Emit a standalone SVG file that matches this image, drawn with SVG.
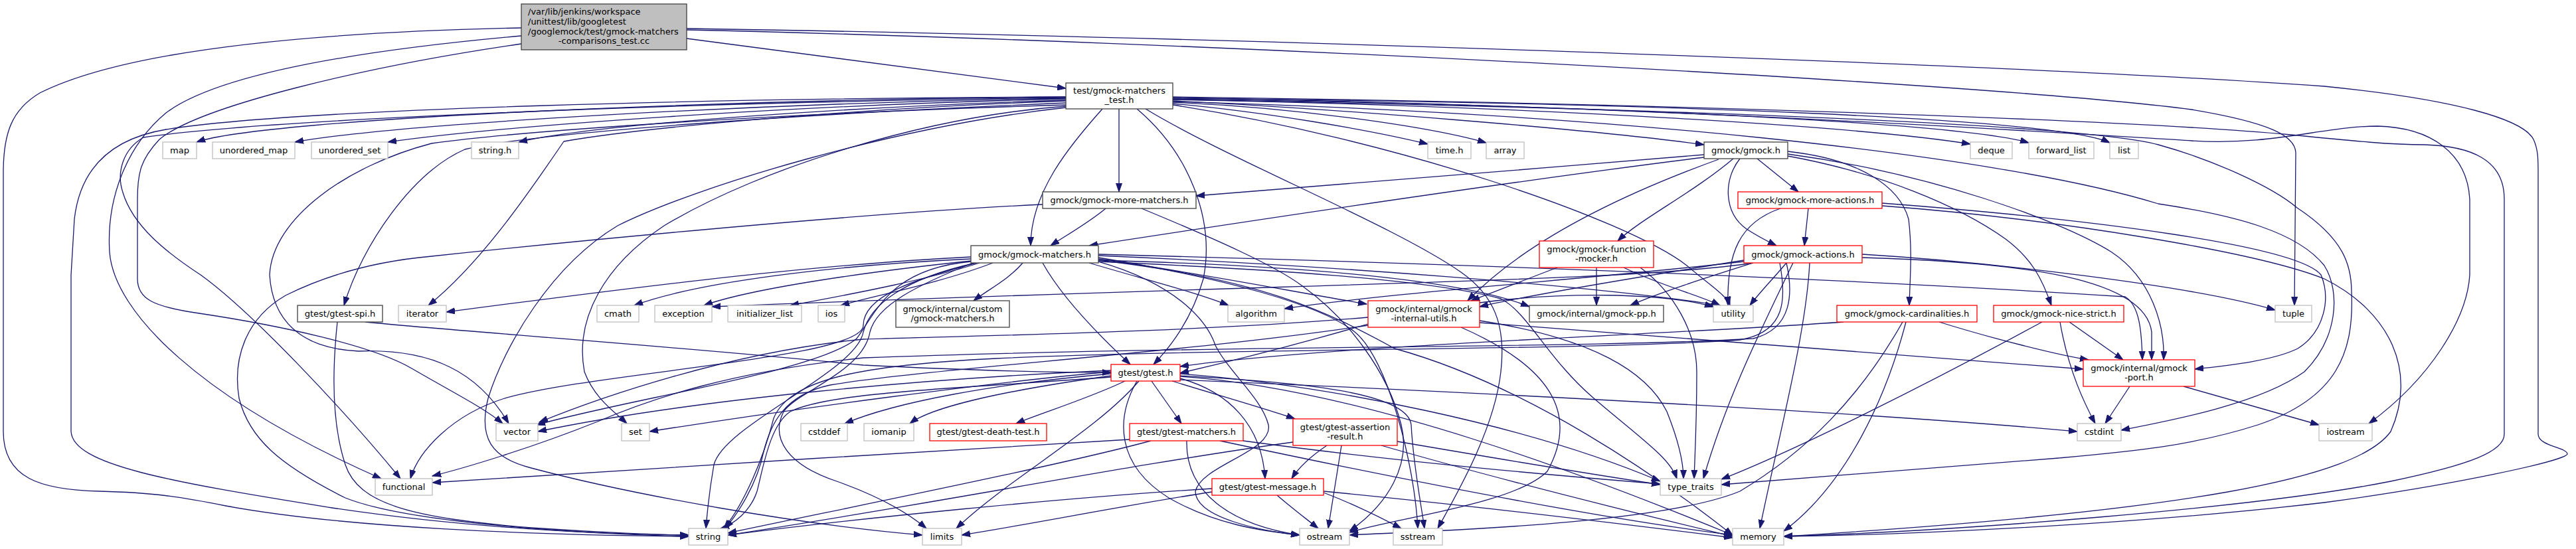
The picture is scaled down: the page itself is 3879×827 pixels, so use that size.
<svg xmlns="http://www.w3.org/2000/svg" width="3879" height="827" viewBox="0 0 3879 827">
<style>
.n rect{fill:#fff;stroke-width:1.3}
.g rect{stroke:#bfbfbf}
.b rect{stroke:#404040}
.r rect{stroke:#ff0000}
.root rect{fill:#bfbfbf;stroke:#404040}
text{font-family:"DejaVu Sans","Liberation Sans",sans-serif;font-size:13px;fill:#000}
.c{text-anchor:middle}
#edges path{fill:none;stroke:#191970;stroke-width:1.3;marker-end:url(#a)}
</style>
<defs>
<marker id="a" markerWidth="14" markerHeight="10" refX="13" refY="5" orient="auto" markerUnits="userSpaceOnUse">
<path d="M0,0.5 L13,5 L0,9.5 z" fill="#191970" stroke="#191970" stroke-width="1"/>
</marker>
</defs>
<rect x="0" y="0" width="3879" height="827" fill="#fff"/>
<g id="edges">
<!-- root -->
<path d="M1034,58 C1250,86 1450,113 1605,133"/>
<path d="M785,42 C500,48 200,70 60,140 C18,165 5,200 5,260 L5,650 C5,720 60,738 150,740 C230,742 270,748 340,762 C520,795 800,806 1037,808"/>
<path d="M785,54 C550,75 330,110 250,170 C190,220 160,300 165,380 C172,470 300,600 574,721"/>
<path d="M785,66 C550,100 300,160 240,210 C212,240 207,260 207,300 L207,420 C207,450 230,462 300,472 C420,490 560,520 620,555 C680,590 730,615 757,638"/>
<path d="M1034,43 C1800,55 3000,95 3500,130 C3700,150 3800,180 3815,210 C3822,225 3822,240 3822,260 L3822,654 C3822,672 3866,674 3866,684 C3862,694 3700,730 3500,757 C3200,792 2850,806 2686,808"/>
<path d="M1034,45 C1800,62 3000,125 3300,165 C3420,185 3456,205 3457,230 L3455,460"/>
<!-- test_h -->
<path d="M1605,146 C1100,150 400,178 296,214"/>
<path d="M1605,148 C1150,155 600,186 444,214"/>
<path d="M1605,149 C1200,158 750,190 584,214"/>
<path d="M1605,151 C1300,160 900,186 781,214"/>
<path d="M1605,146 C1100,148 450,163 250,195 C160,210 120,260 112,330 L107,414 L107,650 C110,700 250,725 500,765 C700,795 900,805 1037,806"/>
<path d="M1605,147 C1000,155 400,180 216,207 C185,225 175,260 185,290 C200,340 250,380 302,414 C380,470 520,620 603,721"/>
<path d="M1605,158 C1200,170 800,195 650,216 C520,250 410,330 406,414 C410,480 450,525 540,529 C650,525 720,560 766,638"/>
<path d="M1605,152 C1250,165 950,195 849,213 C790,300 720,400 645,460"/>
<path d="M1605,155 C1200,172 800,200 700,225 C620,260 545,370 518,460"/>
<path d="M1605,160 C1400,175 1150,250 1000,340 C910,400 865,480 880,560 C895,600 925,620 944,638"/>
<path d="M1605,162 C1350,190 1050,280 930,340 C830,400 760,520 735,600 C720,660 740,690 800,705 C950,745 1200,790 1389,806"/>
<path d="M1660,164 C1610,220 1552,290 1552,370"/>
<path d="M1685,164 L1685,289"/>
<path d="M1712,164 C1790,230 1830,330 1812,420 C1795,480 1765,520 1737,549"/>
<path d="M1766,156 C1900,168 2060,195 2150,217"/>
<path d="M1766,154 C1950,162 2150,190 2238,215"/>
<path d="M1766,152 C2000,163 2400,195 2566,218"/>
<path d="M1766,150 C2300,160 2800,190 2967,217"/>
<path d="M1766,149 C2400,158 2950,185 3055,215"/>
<path d="M1766,148 C2500,155 3100,178 3177,215"/>
<path d="M1766,147 C2500,160 3100,200 3300,212 C3420,220 3500,190 3580,190 C3660,192 3715,230 3719,300 L3719,414 C3715,480 3660,570 3567,638"/>
<path d="M1766,146 C2500,156 3200,180 3450,203 C3550,213 3600,218 3651,218 C3720,220 3771,240 3771,300 L3771,654 C3771,680 3720,700 3600,725 C3400,765 2950,800 2686,808"/>
<path d="M1766,153 C2400,170 3000,230 3250,307 C3370,325 3460,350 3500,400 C3525,440 3520,510 3470,560 C3400,610 3260,635 3194,648"/>
<path d="M1766,150 C2600,165 3150,190 3250,218 C3330,240 3420,280 3459,313 C3530,360 3541,400 3541,440 C3545,530 3520,600 3400,640 C3300,672 3210,680 3100,690 C2900,705 2700,720 2592,730"/>
<path d="M1766,158 C2100,210 2450,330 2540,400 C2575,430 2600,445 2605,460"/>
<path d="M1725,164 C1850,240 2100,340 2200,410 C2250,445 2268,490 2260,560 C2250,650 2190,750 2165,796"/>
<!-- more_matchers -->
<path d="M1665,314 C1640,335 1605,355 1582,370"/>
<path d="M1570,308 C1300,320 800,370 650,386 C550,395 480,420 430,445 C370,480 350,540 360,600 C375,660 420,700 520,750 C620,790 900,805 1037,808"/>
<path d="M1719,314 C1830,360 1920,400 1960,430 C2030,480 2090,560 2110,640 C2125,700 2090,760 2032,800"/>
<!-- gmock.h -->
<path d="M2620,239 C2595,270 2595,320 2630,345 C2650,358 2665,365 2675,370"/>
<path d="M2692,228 C2800,240 2860,280 2874,330 C2880,380 2876,420 2875,460"/>
<path d="M2610,239 C2550,290 2470,330 2436,363"/>
<path d="M2566,233 C2300,255 2000,280 1801,295"/>
<path d="M2566,237 C2300,270 1900,330 1640,370"/>
<path d="M2646,239 L2708,289"/>
<path d="M2692,235 C2830,260 2950,310 3020,360 C3060,390 3075,420 3089,460"/>
<path d="M2588,240 C2450,290 2300,360 2210,453"/>
<path d="M2692,232 C2900,260 3100,330 3180,380 C3240,420 3260,490 3258,542"/>
<!-- more_actions -->
<path d="M2723,314 L2717,370"/>
<path d="M2681,314 C2620,335 2600,380 2602,460"/>
<path d="M2834,310 C3100,330 3400,380 3500,420 C3600,470 3640,560 3600,650 C3550,720 3300,770 2686,808"/>
<path d="M2834,306 C3150,330 3460,370 3495,414 C3510,450 3500,500 3460,525 C3420,545 3340,552 3305,556"/>
<!-- matchers -->
<path d="M1540,396 C1520,420 1490,435 1466,453"/>
<path d="M1570,396 C1600,450 1660,510 1702,549"/>
<path d="M1640,396 C1720,420 1800,440 1850,460"/>
<path d="M1462,390 C1250,400 1050,425 955,460"/>
<path d="M1462,393 C1300,410 1130,435 1060,460"/>
<path d="M1475,396 C1400,420 1300,440 1190,460"/>
<path d="M1495,396 C1420,425 1320,445 1266,460"/>
<path d="M1462,387 C1200,400 900,440 672,470"/>
<path d="M1462,394 C1340,405 1320,470 1290,510 C1230,560 950,600 808,640"/>
<path d="M1470,396 C1380,420 1300,445 1300,490 C1300,540 900,560 760,600 C680,625 630,680 618,721"/>
<path d="M1465,396 C1380,430 1320,460 1310,500 C1300,560 1200,590 1180,620 C1160,660 1185,700 1260,725 C1330,750 1370,775 1395,796"/>
<path d="M1654,392 C1900,420 2000,470 2100,525 C2300,580 2500,720 2609,806"/>
<path d="M1654,394 C1780,430 1820,490 1830,520 C1850,560 1900,600 1910,640 C1918,680 1810,700 1800,740 C1800,780 1900,800 1957,806"/>
<path d="M1654,388 C1850,420 1990,460 2040,500 C2090,540 2130,700 2135,796"/>
<path d="M1470,396 C1360,420 1310,460 1300,500 C1290,560 1090,640 1075,700 C1068,740 1065,770 1063,796"/>
<path d="M1654,394 C1900,405 2150,420 2260,450 C2300,470 2330,540 2400,600 C2470,660 2515,690 2525,721"/>
<path d="M1654,385 C2000,400 2400,430 2590,460"/>
<path d="M1654,390 C1800,410 1950,440 2058,458"/>
<path d="M1654,392 C1950,400 2200,420 2303,462"/>
<path d="M1654,383 C2100,395 2700,415 3200,447 C3222,460 3225,500 3226,542"/>
<!-- function_mocker -->
<path d="M2345,403 C2300,420 2250,440 2215,453"/>
<path d="M2404,403 L2404,460"/>
<path d="M2445,403 C2500,430 2560,445 2590,460"/>
<path d="M2470,403 C2520,440 2555,500 2555,560 C2555,640 2552,690 2551,721"/>
<!-- actions -->
<path d="M2626,394 C2400,420 2100,440 1934,465"/>
<path d="M2640,396 C2580,415 2500,440 2455,460"/>
<path d="M2690,396 C2670,420 2650,440 2635,460"/>
<path d="M2626,392 C2450,420 2300,445 2228,462"/>
<path d="M2804,383 C3000,395 3300,430 3426,467"/>
<path d="M2804,388 C3050,395 3230,420 3240,500 L3240,542"/>
<path d="M2725,396 C2720,500 2680,650 2650,796"/>
<path d="M2700,396 C2650,500 2600,600 2565,721"/>
<path d="M2690,396 C2700,440 2700,495 2640,510 C2400,525 1800,520 1300,539 C1100,560 982,600 900,635 C800,675 700,705 651,717"/>
<path d="M2680,396 C2690,450 2690,500 2620,512 C2400,528 1800,525 1500,540 C1300,550 1190,570 1165,630 C1150,690 1120,760 1090,796"/>
<path d="M2640,396 C2450,425 2000,425 1072,462"/>
<!-- cardinalities -->
<path d="M2776,485 C2500,505 2000,520 1777,552"/>
<path d="M2865,485 C2800,600 2720,680 2620,740 C2500,790 2150,800 2032,806"/>
<path d="M2870,485 C2840,600 2780,730 2686,800"/>
<path d="M2920,485 C3000,510 3100,535 3145,542"/>
<!-- nice_strict -->
<path d="M3075,485 C2900,580 2700,680 2592,722"/>
<path d="M3102,485 C3115,560 3140,610 3155,638"/>
<path d="M3116,485 L3197,542"/>
<!-- internal_utils -->
<path d="M2228,486 C2600,515 2900,540 3137,556"/>
<path d="M2060,488 C1950,520 1850,545 1777,562"/>
<path d="M2060,478 C1800,500 1500,505 1300,511 C1100,530 900,600 812,636"/>
<path d="M2060,490 C1800,530 1400,555 1250,580 C1180,595 1160,640 1150,680 C1140,730 1110,775 1092,796"/>
<path d="M2200,493 C2330,550 2380,620 2330,710 C2280,760 2100,780 2032,802"/>
<path d="M2228,483 C2400,510 2480,560 2510,620 C2530,670 2535,700 2535,721"/>
<path d="M2228,456 C2350,440 2500,440 2580,462"/>
<!-- gtest.h -->
<path d="M1694,574 C1640,600 1560,625 1530,638"/>
<path d="M1734,574 L1779,638"/>
<path d="M1765,574 C1850,600 1920,620 1950,631"/>
<path d="M1777,570 C1850,590 1900,640 1905,721"/>
<path d="M1715,574 C1650,650 1520,720 1440,796"/>
<path d="M1712,574 C1680,630 1680,700 1760,750 C1830,790 1900,800 1957,806"/>
<path d="M1673,566 C1500,590 1400,615 1370,638"/>
<path d="M1673,563 C1500,578 1350,605 1272,638"/>
<path d="M1673,560 C1500,575 1200,615 978,650"/>
<path d="M1673,558 C1400,570 1050,600 810,650"/>
<path d="M1673,568 C1450,585 1250,590 1190,620 C1160,640 1150,700 1140,740 C1130,770 1105,790 1085,796"/>
<path d="M1777,563 C2000,580 2300,640 2500,725"/>
<path d="M1777,567 C2050,585 2400,720 2609,806"/>
<path d="M1777,566 C1950,575 2120,590 2125,640 C2128,700 2140,760 2145,796"/>
<path d="M1777,572 C2200,590 2800,620 3128,650"/>
<!-- spi -->
<path d="M550,485 C700,500 1000,520 1300,550 C1500,560 1600,561 1673,561"/>
<path d="M508,485 C500,560 500,640 520,700 C540,760 620,780 800,795 C900,802 1000,806 1037,806"/>
<!-- gtest_matchers -->
<path d="M1701,662 C1400,680 900,710 651,727"/>
<path d="M1733,664 C1600,700 1300,760 1096,803"/>
<path d="M1787,664 C1785,740 1850,790 1957,806"/>
<path d="M1837,664 C2100,720 2400,780 2609,806"/>
<path d="M1872,664 C2100,695 2350,717 2500,729"/>
<!-- assertion_result -->
<path d="M1998,671 C1970,690 1955,705 1945,721"/>
<path d="M2020,671 L2000,796"/>
<path d="M1947,666 C1700,700 1400,760 1096,806"/>
<path d="M2104,665 C2250,690 2400,715 2500,730"/>
<path d="M2080,671 C2250,720 2450,770 2609,808"/>
<!-- gtest_message -->
<path d="M1825,741 C1700,760 1550,790 1448,806"/>
<path d="M1825,736 C1600,750 1300,780 1096,806"/>
<path d="M1923,746 C1945,765 1965,780 1985,796"/>
<path d="M1993,742 C2040,760 2080,780 2110,796"/>
<path d="M1993,740 C2200,760 2450,790 2609,810"/>
<!-- gmock_port -->
<path d="M3207,582 L3170,638"/>
<path d="M3288,582 L3492,640"/>
</g>
<g id="node-root" class="n root"><rect x="785" y="6" width="249" height="69"/><text x="795" y="22">/var/lib/jenkins/workspace</text><text x="795" y="37">/unittest/lib/googletest</text><text x="795" y="51.5">/googlemock/test/gmock-matchers</text><text class="c" x="909.5" y="66">-comparisons_test.cc</text></g>
<g id="node-test-h" class="n b"><rect x="1605" y="125" width="161" height="39"/><text class="c" x="1685.5" y="141">test/gmock-matchers</text><text class="c" x="1685.5" y="155">_test.h</text></g>
<g id="node-map" class="n g"><rect x="245" y="214" width="51" height="25"/><text class="c" x="270.5" y="231">map</text></g>
<g id="node-unordered-map" class="n g"><rect x="320" y="214" width="124" height="25"/><text class="c" x="382" y="231">unordered_map</text></g>
<g id="node-unordered-set" class="n g"><rect x="469" y="214" width="115" height="25"/><text class="c" x="526.5" y="231">unordered_set</text></g>
<g id="node-string-h" class="n g"><rect x="710" y="214" width="71" height="25"/><text class="c" x="745.5" y="231">string.h</text></g>
<g id="node-time-h" class="n g"><rect x="2150" y="214" width="65" height="25"/><text class="c" x="2182.5" y="231">time.h</text></g>
<g id="node-array" class="n g"><rect x="2238" y="214" width="57" height="25"/><text class="c" x="2266.5" y="231">array</text></g>
<g id="node-gmock-h" class="n b"><rect x="2566" y="214" width="126" height="25"/><text class="c" x="2629" y="231">gmock/gmock.h</text></g>
<g id="node-deque" class="n g"><rect x="2967" y="214" width="63" height="25"/><text class="c" x="2998.5" y="231">deque</text></g>
<g id="node-forward-list" class="n g"><rect x="3055" y="214" width="98" height="25"/><text class="c" x="3104" y="231">forward_list</text></g>
<g id="node-list" class="n g"><rect x="3177" y="214" width="43" height="25"/><text class="c" x="3198.5" y="231">list</text></g>
<g id="node-more-matchers" class="n b"><rect x="1570" y="289" width="231" height="25"/><text class="c" x="1685.5" y="306">gmock/gmock-more-matchers.h</text></g>
<g id="node-more-actions" class="n r"><rect x="2617" y="289" width="217" height="25"/><text class="c" x="2725.5" y="306">gmock/gmock-more-actions.h</text></g>
<g id="node-matchers" class="n b"><rect x="1462" y="370" width="192" height="26"/><text class="c" x="1558" y="388">gmock/gmock-matchers.h</text></g>
<g id="node-function-mocker" class="n r"><rect x="2318" y="363" width="172" height="40"/><text class="c" x="2404" y="379.5">gmock/gmock-function</text><text class="c" x="2404" y="393.5">-mocker.h</text></g>
<g id="node-actions" class="n r"><rect x="2626" y="370" width="178" height="26"/><text class="c" x="2715" y="388">gmock/gmock-actions.h</text></g>
<g id="node-spi" class="n b"><rect x="448" y="460" width="128" height="25"/><text class="c" x="512" y="477">gtest/gtest-spi.h</text></g>
<g id="node-iterator" class="n g"><rect x="600" y="460" width="72" height="25"/><text class="c" x="636" y="477">iterator</text></g>
<g id="node-cmath" class="n g"><rect x="899" y="460" width="63" height="25"/><text class="c" x="930.5" y="477">cmath</text></g>
<g id="node-exception" class="n g"><rect x="986" y="460" width="86" height="25"/><text class="c" x="1029" y="477">exception</text></g>
<g id="node-initializer-list" class="n g"><rect x="1096" y="460" width="111" height="25"/><text class="c" x="1151.5" y="477">initializer_list</text></g>
<g id="node-ios" class="n g"><rect x="1232" y="460" width="40" height="25"/><text class="c" x="1252" y="477">ios</text></g>
<g id="node-custom-matchers" class="n b"><rect x="1349" y="453" width="171" height="40"/><text class="c" x="1434.5" y="469.5">gmock/internal/custom</text><text class="c" x="1434.5" y="483.5">/gmock-matchers.h</text></g>
<g id="node-algorithm" class="n g"><rect x="1849" y="460" width="85" height="25"/><text class="c" x="1891.5" y="477">algorithm</text></g>
<g id="node-internal-utils" class="n r"><rect x="2060" y="453" width="168" height="40"/><text class="c" x="2144" y="469.5">gmock/internal/gmock</text><text class="c" x="2144" y="483.5">-internal-utils.h</text></g>
<g id="node-gmock-pp" class="n b"><rect x="2303" y="460" width="202" height="25"/><text class="c" x="2404" y="477">gmock/internal/gmock-pp.h</text></g>
<g id="node-utility" class="n g"><rect x="2580" y="460" width="60" height="25"/><text class="c" x="2610" y="477">utility</text></g>
<g id="node-cardinalities" class="n r"><rect x="2766" y="460" width="211" height="25"/><text class="c" x="2871.5" y="477">gmock/gmock-cardinalities.h</text></g>
<g id="node-nice-strict" class="n r"><rect x="3002" y="460" width="196" height="25"/><text class="c" x="3100" y="477">gmock/gmock-nice-strict.h</text></g>
<g id="node-tuple" class="n g"><rect x="3426" y="460" width="55" height="25"/><text class="c" x="3453.5" y="477">tuple</text></g>
<g id="node-gmock-port" class="n r"><rect x="3137" y="542" width="168" height="40"/><text class="c" x="3221" y="558.5">gmock/internal/gmock</text><text class="c" x="3221" y="572.5">-port.h</text></g>
<g id="node-gtest-h" class="n r"><rect x="1673" y="549" width="104" height="25"/><text class="c" x="1725" y="566">gtest/gtest.h</text></g>
<g id="node-vector" class="n g"><rect x="747" y="638" width="63" height="26"/><text class="c" x="778.5" y="655">vector</text></g>
<g id="node-set" class="n g"><rect x="936" y="638" width="42" height="26"/><text class="c" x="957" y="655">set</text></g>
<g id="node-cstddef" class="n g"><rect x="1206" y="638" width="70" height="26"/><text class="c" x="1241" y="655">cstddef</text></g>
<g id="node-iomanip" class="n g"><rect x="1301" y="638" width="75" height="26"/><text class="c" x="1338.5" y="655">iomanip</text></g>
<g id="node-death-test" class="n r"><rect x="1400" y="638" width="176" height="26"/><text class="c" x="1488" y="655">gtest/gtest-death-test.h</text></g>
<g id="node-gtest-matchers" class="n r"><rect x="1701" y="638" width="171" height="26"/><text class="c" x="1786.5" y="655">gtest/gtest-matchers.h</text></g>
<g id="node-assertion-result" class="n r"><rect x="1947" y="631" width="157" height="40"/><text class="c" x="2025.5" y="647.5">gtest/gtest-assertion</text><text class="c" x="2025.5" y="661.5">-result.h</text></g>
<g id="node-cstdint" class="n g"><rect x="3128" y="638" width="66" height="26"/><text class="c" x="3161" y="655">cstdint</text></g>
<g id="node-iostream" class="n g"><rect x="3492" y="638" width="80" height="26"/><text class="c" x="3532" y="655">iostream</text></g>
<g id="node-functional" class="n g"><rect x="565" y="721" width="86" height="25"/><text class="c" x="608" y="738">functional</text></g>
<g id="node-gtest-message" class="n r"><rect x="1825" y="721" width="168" height="25"/><text class="c" x="1909" y="738">gtest/gtest-message.h</text></g>
<g id="node-type-traits" class="n g"><rect x="2500" y="721" width="92" height="25"/><text class="c" x="2546" y="738">type_traits</text></g>
<g id="node-string" class="n g"><rect x="1037" y="796" width="59" height="25"/><text class="c" x="1066.5" y="813">string</text></g>
<g id="node-limits" class="n g"><rect x="1389" y="796" width="59" height="25"/><text class="c" x="1418.5" y="813">limits</text></g>
<g id="node-ostream" class="n g"><rect x="1957" y="796" width="75" height="25"/><text class="c" x="1994.5" y="813">ostream</text></g>
<g id="node-sstream" class="n g"><rect x="2098" y="796" width="74" height="25"/><text class="c" x="2135" y="813">sstream</text></g>
<g id="node-memory" class="n g"><rect x="2609" y="796" width="77" height="25"/><text class="c" x="2647.5" y="813">memory</text></g>
</svg>
